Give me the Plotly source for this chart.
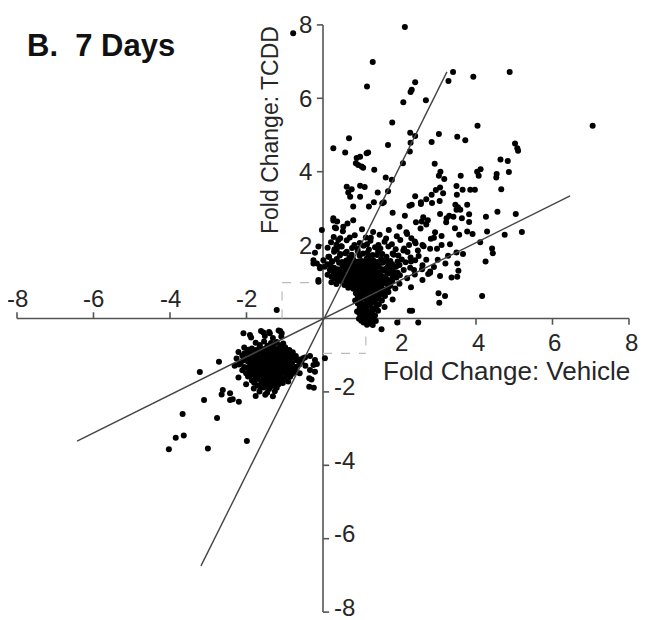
import plotly.graph_objects as go

# ---------------- data ----------------
up_scatter = [
    (2.14,7.94),(1.30,6.99),(1.15,6.32),(3.40,6.72),(3.28,6.47),(3.93,6.59),(4.88,6.72),(2.41,6.44),
    (2.32,6.23),(2.29,6.17),(2.10,5.89),(2.69,5.95),(1.81,5.34),(4.04,5.25),(7.05,5.25),(2.28,5.06),
    (2.41,4.97),(3.03,5.03),(3.51,4.95),(3.72,4.86),(2.84,4.81),(1.70,4.73),(2.29,4.79),(2.27,4.55),
    (5.02,4.77),(5.08,4.64),(5.10,4.57),(1.18,4.52),(0.97,4.41),(1.05,4.11),(1.34,4.05),(2.09,4.23),
    (2.92,4.22),(4.64,4.33),(4.83,4.29),(4.86,3.99),(4.54,3.94),(4.53,3.84),(4.03,4.00),(4.12,4.07),
    (4.07,3.89),(3.07,4.00),(3.03,3.89),(3.17,3.80),(3.60,3.89),(1.64,3.84),(1.80,3.78),(0.97,3.62),
    (1.09,3.58),(3.49,3.61),(3.65,3.51),(3.50,3.37),(3.85,3.51),(3.97,3.51),(4.66,3.52),(3.06,3.57),
    (2.95,3.50),(3.14,3.41),(1.43,3.43),(1.70,3.47),(0.97,3.32),(2.41,3.33),(2.84,3.37),(2.70,3.25),
    (2.56,3.17),(2.56,3.12),(2.26,3.07),(2.32,3.10),(3.05,3.20),(2.85,3.15),(3.46,3.10),(3.53,3.03),
    (3.59,2.96),(3.49,2.96),(3.77,3.10),(3.82,2.84),(1.59,3.17),(1.33,3.17),(1.20,3.05),(1.55,3.14),
    (4.56,2.91),(5.04,2.85),(4.26,2.77),(1.82,2.88),(2.14,2.80),(3.06,2.85),(3.23,2.73),(3.41,2.77),
    (3.63,2.73),(3.82,2.63),(2.62,2.76),(2.74,2.68),(2.58,2.64),(2.70,2.56),(2.43,2.62),(2.55,2.45),
    (3.45,2.46),(3.56,2.28),(3.77,2.37),(3.91,2.30),(4.29,2.37),(4.75,2.28),(5.20,2.36),(3.22,2.62),
    (3.30,2.80),(2.93,2.35),(3.10,2.25),(2.82,2.17),(3.32,2.02),(3.10,2.00),(2.98,1.90),(3.49,1.80),
    (3.66,1.76),(3.27,1.71),(4.11,2.08),(4.42,1.91),(4.44,1.78),(4.25,1.55),(3.51,1.50),(3.54,1.30),
    (3.51,1.14),(3.36,1.12),(3.06,1.16),(2.80,1.28),(2.75,1.21),(2.59,1.34),(2.38,1.32),(3.02,0.69),
    (3.19,0.61),(3.04,0.43),(4.16,0.61),(2.27,0.21),(2.33,0.21),(1.94,-0.11),(2.49,-0.11),(1.53,-0.29),
    (0.68,4.91),(0.27,4.64),(0.58,4.52),(0.88,4.37),(0.86,4.23),(0.92,4.18),(1.01,4.14),(1.14,4.50),
    (0.62,3.59),(0.75,3.52),(0.66,3.43),(0.71,3.32),(0.79,3.05),(0.27,2.73),(0.37,2.64),(0.53,2.50),
    (0.34,2.46),(0.64,2.59),(0.79,2.68),(-0.03,2.41),(-0.12,1.96),(0.40,2.14),(0.49,1.96),(0.62,1.82),
    (0.36,1.87),(-0.25,1.59),(-0.16,1.50),(-0.08,1.41),(0.14,1.68),(0.23,1.55),(0.05,1.41),(0.18,1.32),
    (0.31,1.23),(-0.12,1.00),(-0.78,7.77),(-1.21,0.23),(0.27,2.67),(0.31,2.48),(-0.21,1.79),(0.01,1.59),
    (-0.25,1.50),(-0.08,1.37),(-0.12,1.05),(0.40,1.19),
    (2.00,2.50),(2.20,2.30),(2.40,2.10),(2.60,2.00),(2.80,1.90),(2.90,2.20),(2.50,1.70),(2.70,1.60),
    (2.30,1.55),(2.10,1.85),(3.00,1.60),(3.20,1.50),(2.90,1.40),(2.60,1.45),(2.40,1.20),(2.20,1.10),
    (2.00,0.95),(2.30,0.85),(2.60,1.05),(2.80,1.25),
]

up_core = [
    (0.52,2.38),(1.02,2.43),(1.31,2.36),(1.72,2.41),(2.18,2.35),
    (0.28,2.22),(0.83,2.27),(1.12,2.21),(1.48,2.28),(1.93,2.24),(2.31,2.19),
    (0.21,2.08),(0.62,2.13),(0.96,2.06),(1.24,2.12),(1.61,2.09),(2.02,2.14),(2.42,2.05),
    (0.12,1.93),(0.47,1.97),(0.76,1.92),(1.06,1.98),(1.36,1.94),(1.71,1.96),(2.12,1.91),(2.63,1.97),
    (0.29,1.82),(0.58,1.78),(0.91,1.83),(1.16,1.79),(1.44,1.84),(1.82,1.77),(2.21,1.81),(2.48,1.85),
    (0.16,1.68),(0.44,1.72),(0.69,1.67),(0.96,1.71),(1.19,1.69),(1.41,1.73),(1.66,1.68),(1.97,1.72),(2.29,1.66),
    (0.36,1.62),(0.61,1.58),(0.79,1.61),(1.01,1.57),(1.14,1.63),(1.31,1.59),(1.52,1.62),(1.76,1.57),(2.06,1.61),(2.41,1.59),
    (0.11,1.48),(0.42,1.52),(0.66,1.47),(0.86,1.53),(1.04,1.49),(1.21,1.51),(1.36,1.47),(1.56,1.52),(1.81,1.48),(2.16,1.53),
    (0.29,1.38),(0.51,1.42),(0.71,1.37),(0.89,1.41),(1.02,1.38),(1.16,1.43),(1.29,1.39),(1.46,1.42),(1.66,1.37),(1.91,1.41),(2.28,1.38),
    (0.21,1.31),(0.44,1.28),(0.61,1.32),(0.79,1.27),(0.94,1.31),(1.09,1.29),(1.24,1.33),(1.39,1.28),(1.61,1.31),(1.86,1.27),(2.11,1.32),
    (0.12,1.19),(0.36,1.22),(0.56,1.18),(0.74,1.21),(0.91,1.17),(1.06,1.22),(1.19,1.18),(1.34,1.21),(1.51,1.19),(1.74,1.23),(2.01,1.18),
    (0.31,1.09),(0.49,1.12),(0.69,1.08),(0.84,1.11),(1.01,1.07),(1.14,1.12),(1.29,1.09),(1.44,1.11),(1.66,1.08),(1.92,1.12),
    (0.22,0.99),(0.46,1.02),(0.64,0.98),(0.81,1.01),(0.96,0.97),(1.11,1.02),(1.26,0.99),(1.41,1.01),(1.59,0.98),(1.81,1.02),
    (0.56,0.91),(0.74,0.88),(0.89,0.92),(1.04,0.89),(1.21,0.91),(1.36,0.88),(1.54,0.92),(1.76,0.89),
    (0.79,0.81),(0.94,0.78),(1.09,0.82),(1.24,0.79),(1.41,0.81),(1.61,0.78),(1.89,0.82),
    (0.86,0.69),(1.01,0.72),(1.16,0.68),(1.31,0.71),(1.49,0.69),(1.71,0.72),
    (0.91,0.61),(1.06,0.58),(1.21,0.62),(1.39,0.59),(1.62,0.61),
    (0.84,0.49),(0.99,0.52),(1.14,0.48),(1.31,0.51),(1.54,0.49),(1.82,0.52),
    (0.91,0.41),(1.06,0.38),(1.26,0.42),(1.46,0.39),
    (0.96,0.29),(1.11,0.32),(1.29,0.28),(1.61,0.31),
    (0.89,0.19),(1.04,0.22),(1.21,0.18),(1.44,0.21),
    (1.01,0.09),(1.16,0.12),(1.36,0.08),
    (0.94,-0.01),(1.09,0.02),(1.31,-0.02),
    (1.06,-0.11),(1.24,-0.13),
]

up_core_fill = [
    (0.45,1.76),(0.75,1.74),(1.05,1.77),(1.30,1.73),(1.55,1.76),(1.85,1.74),
    (0.25,1.56),(0.50,1.54),(0.72,1.57),(0.92,1.55),(1.10,1.54),(1.25,1.56),(1.42,1.54),(1.65,1.57),(1.95,1.55),
    (0.20,1.44),(0.55,1.46),(0.78,1.43),(0.97,1.45),(1.10,1.46),(1.25,1.44),(1.42,1.46),(1.70,1.43),(2.00,1.46),
    (0.38,1.34),(0.58,1.36),(0.80,1.33),(0.97,1.35),(1.12,1.34),(1.35,1.36),(1.55,1.34),(1.78,1.35),
    (0.28,1.24),(0.50,1.26),(0.68,1.23),(0.86,1.25),(1.00,1.24),(1.15,1.26),(1.30,1.24),(1.46,1.26),(1.68,1.24),(1.95,1.25),
    (0.22,1.14),(0.45,1.16),(0.63,1.13),(0.82,1.15),(0.97,1.14),(1.10,1.16),(1.25,1.14),(1.40,1.15),(1.58,1.13),(1.82,1.16),
    (0.38,1.04),(0.57,1.06),(0.76,1.04),(0.92,1.05),(1.06,1.03),(1.20,1.06),(1.36,1.04),(1.52,1.05),(1.74,1.04),
    (0.35,0.94),(0.70,0.96),(0.85,0.94),(1.00,0.95),(1.16,0.93),(1.31,0.96),(1.47,0.94),(1.68,0.95),
    (0.66,0.84),(0.86,0.86),(1.00,0.84),(1.16,0.85),(1.32,0.84),(1.50,0.86),(1.70,0.84),
    (0.90,0.74),(1.07,0.76),(1.22,0.74),(1.38,0.75),(1.58,0.74),
    (0.97,0.64),(1.12,0.66),(1.30,0.64),(1.50,0.65),
    (0.92,0.54),(1.08,0.56),(1.24,0.54),(1.45,0.55),
    (0.98,0.44),(1.16,0.46),(1.36,0.44),
    (1.02,0.34),(1.20,0.36),(1.40,0.34),
    (0.98,0.24),(1.14,0.26),(1.32,0.24),
    (0.95,0.14),(1.10,0.16),(1.28,0.14),
    (1.05,0.05),(1.22,0.04),
    (1.00,-0.06),(1.18,-0.05),(1.38,-0.07),
    (1.15,-0.17),(1.30,-0.18),
    (0.30,1.89),(0.90,1.90),(1.20,1.88),(1.50,1.91),(1.90,1.89),
    (0.35,2.01),(0.82,2.00),(1.15,2.02),(1.45,2.00),(1.80,2.02),(2.25,2.00),
    (0.45,2.19),(0.70,2.21),(1.25,2.20),(1.65,2.18),
]

down_scatter = [
    (-3.22,-1.46),(-2.72,-1.18),(-3.11,-2.22),(-3.67,-2.60),(-2.77,-2.71),(-3.85,-3.25),(-3.64,-3.19),
    (-4.03,-3.56),(-3.01,-3.54),(-1.99,-3.34),(-2.62,-1.95),(-2.65,-2.07),(-2.43,-2.04),(-2.36,-2.20),
    (-2.20,-2.27),(-2.43,-2.22),(-2.08,-0.40),(-1.91,-0.45),(-1.56,-0.38),(-1.39,-0.40),(-1.12,-0.34),
    (-1.08,-0.40),(-0.47,-1.06),(-0.34,-1.02),(-0.21,-1.13),(-0.25,-1.27),(0.05,-1.08),(-0.36,-1.63),
    (-0.30,-1.66),(-0.36,-1.86),(-0.24,-1.89),(-0.16,-1.24),(-0.34,-1.40),(-0.21,-1.45),
]

down_core = [
    (-1.62,-0.34),(-1.41,-0.37),(-1.16,-0.33),
    (-1.88,-0.52),(-1.52,-0.48),(-1.31,-0.53),(-1.09,-0.49),
    (-1.76,-0.66),(-1.54,-0.63),(-1.36,-0.67),(-1.21,-0.64),(-1.04,-0.68),
    (-2.06,-0.79),(-1.86,-0.82),(-1.66,-0.78),(-1.49,-0.81),(-1.34,-0.79),(-1.19,-0.83),(-0.99,-0.78),
    (-2.21,-0.91),(-1.96,-0.88),(-1.76,-0.92),(-1.61,-0.89),(-1.46,-0.91),(-1.29,-0.88),(-1.14,-0.92),(-0.94,-0.89),(-0.79,-0.92),
    (-2.11,-1.01),(-1.91,-0.98),(-1.71,-1.02),(-1.56,-0.99),(-1.41,-1.03),(-1.26,-0.98),(-1.09,-1.01),(-0.89,-0.99),(-0.71,-1.02),
    (-2.26,-1.09),(-2.01,-1.12),(-1.81,-1.08),(-1.66,-1.11),(-1.51,-1.09),(-1.36,-1.12),(-1.21,-1.08),(-1.04,-1.11),(-0.86,-1.09),(-0.61,-1.12),(-0.52,-1.08),
    (-2.16,-1.21),(-1.96,-1.18),(-1.76,-1.22),(-1.61,-1.19),(-1.46,-1.21),(-1.31,-1.18),(-1.16,-1.22),(-0.99,-1.19),(-0.81,-1.21),(-0.56,-1.18),
    (-2.31,-1.29),(-2.06,-1.32),(-1.86,-1.28),(-1.71,-1.31),(-1.56,-1.29),(-1.41,-1.32),(-1.26,-1.28),(-1.11,-1.31),(-0.91,-1.29),(-0.71,-1.32),(-0.46,-1.29),
    (-2.11,-1.41),(-1.91,-1.38),(-1.76,-1.42),(-1.61,-1.39),(-1.46,-1.41),(-1.31,-1.38),(-1.16,-1.42),(-0.96,-1.39),(-0.76,-1.41),
    (-2.01,-1.49),(-1.81,-1.52),(-1.66,-1.48),(-1.51,-1.51),(-1.36,-1.49),(-1.21,-1.52),(-1.01,-1.48),(-0.81,-1.51),(-0.61,-1.49),
    (-2.21,-1.61),(-1.96,-1.58),(-1.76,-1.62),(-1.56,-1.59),(-1.41,-1.61),(-1.26,-1.58),(-1.06,-1.62),(-0.86,-1.59),
    (-1.86,-1.69),(-1.61,-1.72),(-1.46,-1.68),(-1.31,-1.71),(-1.11,-1.69),(-0.91,-1.72),
    (-2.01,-1.79),(-1.71,-1.82),(-1.51,-1.78),(-1.36,-1.81),(-1.16,-1.79),
    (-1.81,-1.91),(-1.56,-1.88),(-1.41,-1.92),(-1.21,-1.89),
    (-1.66,-1.99),(-1.46,-2.02),(-1.26,-1.98),
    (-1.76,-2.11),(-1.51,-2.08),(-1.31,-2.12),
]

down_core_fill = [
    (-1.65,-0.72),(-1.45,-0.74),(-1.28,-0.71),(-1.12,-0.73),
    (-1.95,-0.85),(-1.75,-0.86),(-1.56,-0.84),(-1.40,-0.86),(-1.25,-0.85),(-1.07,-0.84),(-0.88,-0.86),
    (-2.05,-0.95),(-1.84,-0.96),(-1.67,-0.94),(-1.52,-0.96),(-1.35,-0.95),(-1.20,-0.94),(-1.02,-0.96),(-0.82,-0.95),
    (-1.95,-1.05),(-1.76,-1.06),(-1.60,-1.04),(-1.46,-1.06),(-1.30,-1.05),(-1.15,-1.04),(-0.96,-1.06),(-0.78,-1.05),
    (-2.10,-1.15),(-1.88,-1.16),(-1.71,-1.14),(-1.56,-1.16),(-1.41,-1.15),(-1.26,-1.14),(-1.10,-1.16),(-0.92,-1.15),(-0.70,-1.14),
    (-2.20,-1.25),(-1.90,-1.26),(-1.80,-1.24),(-1.66,-1.25),(-1.50,-1.26),(-1.36,-1.24),(-1.20,-1.25),(-1.05,-1.26),(-0.86,-1.24),(-0.62,-1.25),
    (-1.98,-1.35),(-1.81,-1.36),(-1.66,-1.34),(-1.51,-1.35),(-1.36,-1.36),(-1.21,-1.34),(-1.04,-1.35),(-0.84,-1.36),
    (-1.86,-1.45),(-1.71,-1.46),(-1.56,-1.44),(-1.41,-1.45),(-1.26,-1.46),(-1.08,-1.44),(-0.90,-1.45),(-0.70,-1.46),
    (-1.90,-1.55),(-1.72,-1.56),(-1.58,-1.54),(-1.45,-1.55),(-1.30,-1.56),(-1.14,-1.54),(-0.95,-1.55),
    (-1.70,-1.65),(-1.52,-1.66),(-1.36,-1.64),(-1.20,-1.65),(-1.00,-1.66),
    (-1.80,-1.75),(-1.58,-1.76),(-1.42,-1.74),(-1.25,-1.75),(-1.05,-1.76),
    (-1.65,-1.85),(-1.48,-1.86),(-1.30,-1.84),
]

# fitted lines (endpoints)
steep_x = [-3.19, 3.24]
steep_y = [-6.74, 6.72]
shallow_x = [-6.43, 6.46]
shallow_y = [-3.34, 3.34]

# dashed "no change" box corners
box_x_neg, box_y_pos = -1.07, 0.98
box_x_pos, box_y_neg = 1.12, -0.95

x_ticks_neg = [-8, -6, -4, -2]
x_ticks_pos = [2, 4, 6, 8]
y_ticks_pos = [2, 4, 6, 8]
y_ticks_neg = [-2, -4, -6, -8]

title_text = "B.  7 Days"
x_title = "Fold Change: Vehicle"
y_title = "Fold Change: TCDD"

# ---------------- figure ----------------
# the page body has an 8px margin; figure coordinates = reference pixels - 8
OFF = 8
W, H = 646 - OFF, 620 - OFF
X0, Y0 = 323 - OFF, 318.5 - OFF   # origin in figure pixels
SX, SY = 38.25, 36.7              # pixels per unit

FONT = "Liberation Sans, Arial, sans-serif"
TXT = "#262626"
AX = "#555555"

pts = up_scatter + up_core + up_core_fill + down_scatter + down_core + down_core_fill
px = [p[0] for p in pts]
py = [p[1] for p in pts]

fig = go.Figure()
fig.add_trace(go.Scatter(x=px, y=py, mode="markers",
                         marker=dict(size=6, color="black", line=dict(width=0)),
                         hoverinfo="skip", showlegend=False))
fig.add_trace(go.Scatter(x=steep_x, y=steep_y, mode="lines",
                         line=dict(color="#444444", width=1.4), showlegend=False, hoverinfo="skip"))
fig.add_trace(go.Scatter(x=shallow_x, y=shallow_y, mode="lines",
                         line=dict(color="#444444", width=1.4), showlegend=False, hoverinfo="skip"))

shapes = []
shapes.append(dict(type="line", x0=-8, x1=8, y0=0, y1=0, line=dict(color=AX, width=1.6), layer="below"))
shapes.append(dict(type="line", x0=0, x1=0, y0=-8, y1=8, line=dict(color=AX, width=1.6), layer="below"))
tx, ty = 0.16, 0.17
for v in x_ticks_neg:
    shapes.append(dict(type="line", x0=v, x1=v, y0=0, y1=ty, line=dict(color=AX, width=1.6), layer="below"))
for v in x_ticks_pos:
    shapes.append(dict(type="line", x0=v, x1=v, y0=0, y1=-ty, line=dict(color=AX, width=1.6), layer="below"))
for v in y_ticks_pos:
    shapes.append(dict(type="line", x0=0, x1=-tx, y0=v, y1=v, line=dict(color=AX, width=1.6), layer="below"))
for v in y_ticks_neg:
    shapes.append(dict(type="line", x0=0, x1=tx, y0=v, y1=v, line=dict(color=AX, width=1.6), layer="below"))
dash = dict(color="#bbbbbb", width=1.2, dash="dash")
shapes += [
    dict(type="line", x0=box_x_neg, x1=box_x_neg, y0=0, y1=box_y_pos, line=dash, layer="below"),
    dict(type="line", x0=box_x_neg, x1=0, y0=box_y_pos, y1=box_y_pos, line=dash, layer="below"),
    dict(type="line", x0=box_x_pos, x1=box_x_pos, y0=0, y1=box_y_neg, line=dash, layer="below"),
    dict(type="line", x0=0, x1=box_x_pos, y0=box_y_neg, y1=box_y_neg, line=dash, layer="below"),
]

ann = []
tf = dict(family=FONT, size=24, color=TXT)
for v in x_ticks_neg:
    ann.append(dict(x=v, y=0, xref="x", yref="y", text=str(v), showarrow=False,
                    xanchor="center", yanchor="middle", yshift=20, font=tf))
for v in x_ticks_pos:
    ann.append(dict(x=v, y=0, xref="x", yref="y", text=str(v), showarrow=False,
                    xanchor="center", yanchor="middle", yshift=-24, xshift=2, font=tf))
for v in y_ticks_pos:
    ann.append(dict(x=0, y=v, xref="x", yref="y", text=str(v), showarrow=False,
                    xanchor="right", yanchor="middle", xshift=-9, font=tf))
for v in y_ticks_neg:
    ann.append(dict(x=0, y=v, xref="x", yref="y", text=str(v), showarrow=False,
                    xanchor="left", yanchor="middle", xshift=9, yshift=5, font=tf))

def px_x(p):
    return (p - OFF) / W

def px_y(p):
    return 1 - (p - OFF) / H

ann.append(dict(x=px_x(25), y=px_y(45), xref="paper", yref="paper", text="<b>" + title_text + "</b>",
                showarrow=False, xanchor="left", yanchor="middle",
                font=dict(family=FONT, size=31, color="#111111")))
ann.append(dict(x=px_x(270), y=px_y(130), xref="paper", yref="paper", text=y_title, textangle=-90,
                showarrow=False, xanchor="center", yanchor="middle",
                font=dict(family=FONT, size=23, color=TXT)))
ann.append(dict(x=px_x(506), y=px_y(371), xref="paper", yref="paper", text=x_title,
                showarrow=False, xanchor="center", yanchor="middle",
                font=dict(family=FONT, size=26, color=TXT)))

fig.update_layout(
    width=W, height=H, margin=dict(l=0, r=0, t=0, b=0),
    paper_bgcolor="white", plot_bgcolor="white",
    xaxis=dict(range=[-X0 / SX, (W - X0) / SX], visible=False, fixedrange=True),
    yaxis=dict(range=[(Y0 - H) / SY, Y0 / SY], visible=False, fixedrange=True),
    shapes=shapes, annotations=ann, showlegend=False,
)

fig.write_html("out.html")
